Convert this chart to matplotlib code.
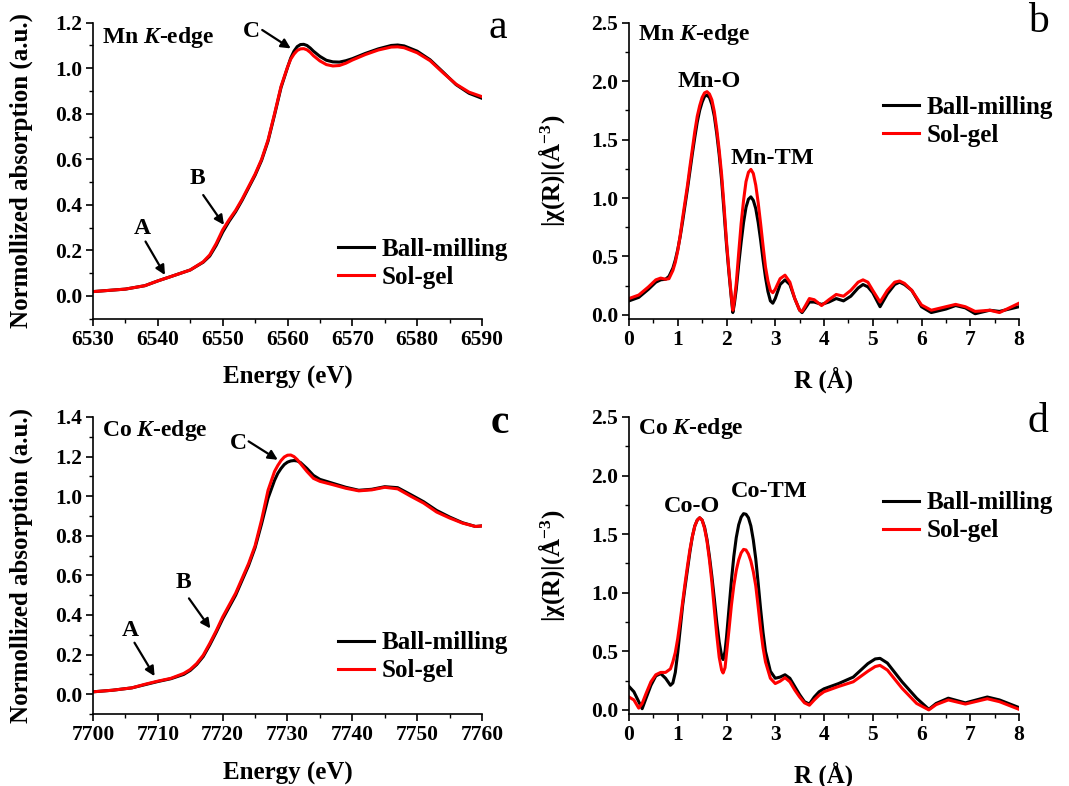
import numpy as np
import matplotlib
matplotlib.use("Agg")
import matplotlib.pyplot as plt
from matplotlib.ticker import MultipleLocator, FormatStrFormatter

plt.rcParams['font.family'] = ['Liberation Serif', 'DejaVu Serif']
plt.rcParams['font.weight'] = 'bold'
plt.rcParams['mathtext.fontset'] = 'custom'
plt.rcParams['mathtext.rm'] = 'Liberation Serif:bold'
plt.rcParams['mathtext.it'] = 'Liberation Serif:bold:italic'
plt.rcParams['mathtext.bf'] = 'Liberation Serif:bold'

# ---------------- data ----------------
# Panel a: Mn K-edge XANES
mn_energy = [6530, 6535, 6538, 6540, 6542, 6545, 6547, 6548, 6549, 6550,
             6551, 6552, 6553, 6554, 6555, 6556, 6557, 6558, 6559, 6560,
             6560.5, 6561, 6561.5, 6562, 6562.5, 6563, 6563.5, 6564, 6565, 6566,
             6567, 6568, 6569, 6570, 6572, 6574, 6576, 6577, 6578, 6580,
             6582, 6584, 6586, 6588, 6590]
mn_xanes_bm = [0.019, 0.030, 0.045, 0.066, 0.085, 0.114, 0.148, 0.175, 0.222, 0.280,
               0.328, 0.370, 0.420, 0.475, 0.530, 0.595, 0.680, 0.795, 0.915, 1.003,
               1.045, 1.075, 1.095, 1.104, 1.105, 1.100, 1.089, 1.075, 1.052, 1.035,
               1.028, 1.027, 1.033, 1.042, 1.065, 1.085, 1.100, 1.102, 1.098, 1.075,
               1.037, 0.983, 0.928, 0.890, 0.868]
mn_xanes_sg = [0.019, 0.030, 0.045, 0.066, 0.085, 0.114, 0.150, 0.180, 0.230, 0.290,
               0.335, 0.376, 0.425, 0.480, 0.535, 0.600, 0.685, 0.800, 0.920, 1.005,
               1.040, 1.062, 1.078, 1.085, 1.086, 1.081, 1.070, 1.055, 1.032, 1.016,
               1.010, 1.012, 1.022, 1.036, 1.060, 1.080, 1.093, 1.094, 1.090, 1.068,
               1.033, 0.980, 0.930, 0.895, 0.875]

# Panel b: Mn K-edge FT
mn_r = [0.0, 0.2, 0.4, 0.55, 0.65, 0.75, 0.82, 0.9, 0.95, 1.0,
        1.05, 1.1, 1.15, 1.2, 1.25, 1.3, 1.35, 1.4, 1.45, 1.5,
        1.55, 1.6, 1.65, 1.7, 1.75, 1.8, 1.85, 1.9, 1.95, 2.0,
        2.05, 2.1, 2.13, 2.16, 2.2, 2.25, 2.3, 2.35, 2.4, 2.45,
        2.5, 2.55, 2.6, 2.65, 2.7, 2.75, 2.8, 2.85, 2.9, 2.95,
        3.0, 3.1, 3.2, 3.3, 3.4, 3.5, 3.55, 3.62, 3.7, 3.8,
        3.95, 4.1, 4.25, 4.4, 4.55, 4.7, 4.8, 4.9, 5.0, 5.15,
        5.3, 5.45, 5.55, 5.65, 5.8, 6.0, 6.2, 6.5, 6.7, 6.9,
        7.1, 7.4, 7.6, 8.0]
mn_ft_bm = [0.12, 0.15, 0.22, 0.28, 0.30, 0.305, 0.33, 0.40, 0.47, 0.56,
            0.67, 0.80, 0.94, 1.08, 1.23, 1.38, 1.52, 1.65, 1.75, 1.82,
            1.87, 1.88, 1.86, 1.80, 1.70, 1.55, 1.37, 1.15, 0.88, 0.60,
            0.36, 0.14, 0.02, 0.09, 0.22, 0.43, 0.62, 0.79, 0.92, 0.99,
            1.01, 0.98, 0.91, 0.79, 0.64, 0.47, 0.32, 0.20, 0.12, 0.10,
            0.14, 0.26, 0.30, 0.26, 0.14, 0.04, 0.02, 0.06, 0.11, 0.11,
            0.09, 0.11, 0.14, 0.12, 0.16, 0.23, 0.26, 0.24, 0.19, 0.07,
            0.18, 0.26, 0.28, 0.26, 0.21, 0.07, 0.02, 0.05, 0.08, 0.06,
            0.01, 0.04, 0.03, 0.07]
mn_ft_sg = [0.14, 0.17, 0.24, 0.30, 0.315, 0.305, 0.31, 0.38, 0.45, 0.55,
            0.68, 0.83, 0.97, 1.11, 1.27, 1.42, 1.57, 1.70, 1.79, 1.86,
            1.90, 1.91, 1.89, 1.84, 1.74, 1.59, 1.41, 1.20, 0.93, 0.63,
            0.38, 0.155, 0.04, 0.12, 0.27, 0.53, 0.78, 0.98, 1.14, 1.22,
            1.245, 1.21, 1.11, 0.96, 0.78, 0.59, 0.41, 0.29, 0.21, 0.19,
            0.22, 0.31, 0.34, 0.28, 0.14, 0.04, 0.03, 0.08, 0.14, 0.13,
            0.08, 0.13, 0.175, 0.16, 0.21, 0.28, 0.30, 0.28, 0.21, 0.11,
            0.21, 0.28, 0.29, 0.27, 0.21, 0.085, 0.04, 0.07, 0.09, 0.07,
            0.03, 0.04, 0.02, 0.10]

# Panel c: Co K-edge XANES
co_energy = [7700, 7703, 7706, 7708, 7710, 7712, 7714, 7715, 7716, 7717,
             7718, 7719, 7720, 7722, 7724, 7725, 7726, 7727, 7728, 7728.5,
             7729, 7729.5, 7730, 7730.5, 7731, 7731.5, 7732, 7733, 7734, 7735,
             7737, 7739, 7741, 7743, 7745, 7747, 7749, 7751, 7753, 7755,
             7757, 7759, 7760]
co_xanes_bm = [0.012, 0.020, 0.032, 0.048, 0.064, 0.078, 0.100, 0.120, 0.150, 0.190,
               0.248, 0.312, 0.380, 0.500, 0.650, 0.740, 0.860, 0.990, 1.080, 1.115,
               1.140, 1.160, 1.172, 1.178, 1.180, 1.178, 1.170, 1.140, 1.105, 1.085,
               1.065, 1.045, 1.030, 1.035, 1.048, 1.043, 1.008, 0.972, 0.928, 0.895,
               0.866, 0.847, 0.850]
co_xanes_sg = [0.012, 0.020, 0.032, 0.050, 0.066, 0.080, 0.105, 0.125, 0.155, 0.197,
               0.256, 0.320, 0.390, 0.510, 0.660, 0.750, 0.880, 1.030, 1.125, 1.155,
               1.180, 1.198, 1.207, 1.208, 1.200, 1.185, 1.165, 1.125, 1.090, 1.075,
               1.058, 1.040, 1.027, 1.032, 1.045, 1.037, 1.000, 0.965, 0.920, 0.890,
               0.864, 0.847, 0.850]

# Panel d: Co K-edge FT
co_r = [0.0, 0.1, 0.2, 0.27, 0.35, 0.45, 0.55, 0.65, 0.75, 0.85,
        0.9, 0.95, 1.0, 1.05, 1.1, 1.15, 1.2, 1.25, 1.3, 1.35,
        1.4, 1.45, 1.5, 1.55, 1.6, 1.65, 1.7, 1.75, 1.8, 1.85,
        1.9, 1.93, 1.97, 2.0, 2.05, 2.1, 2.15, 2.2, 2.25, 2.3,
        2.35, 2.4, 2.45, 2.5, 2.55, 2.6, 2.65, 2.7, 2.75, 2.8,
        2.9, 3.0, 3.1, 3.2, 3.3, 3.4, 3.5, 3.6, 3.7, 3.8,
        3.9, 4.0, 4.3, 4.6, 4.9, 5.05, 5.15, 5.3, 5.6, 5.9,
        6.15, 6.3, 6.55, 6.9, 7.35, 7.6, 8.0]
co_ft_bm = [0.20, 0.155, 0.07, 0.01, 0.10, 0.21, 0.29, 0.31, 0.27, 0.21,
            0.23, 0.32, 0.49, 0.69, 0.89, 1.05, 1.20, 1.35, 1.48, 1.57,
            1.62, 1.64, 1.62, 1.56, 1.455, 1.31, 1.14, 0.95, 0.75, 0.58,
            0.46, 0.43, 0.50, 0.62, 0.86, 1.10, 1.31, 1.47, 1.58, 1.645,
            1.675, 1.67, 1.64, 1.57, 1.45, 1.29, 1.08, 0.86, 0.66, 0.50,
            0.33, 0.27, 0.28, 0.30, 0.27, 0.20, 0.13, 0.07, 0.05, 0.11,
            0.155, 0.18, 0.225, 0.28, 0.395, 0.435, 0.44, 0.40, 0.24, 0.10,
            0.005, 0.055, 0.10, 0.06, 0.11, 0.085, 0.02]
co_ft_sg = [0.11, 0.085, 0.015, 0.055, 0.14, 0.24, 0.30, 0.32, 0.32, 0.35,
            0.41, 0.49, 0.61, 0.76, 0.92, 1.08, 1.23, 1.37, 1.48, 1.57,
            1.62, 1.64, 1.62, 1.55, 1.44, 1.28, 1.09, 0.86, 0.64, 0.45,
            0.34, 0.315, 0.36, 0.48, 0.68, 0.89, 1.06, 1.19, 1.28, 1.34,
            1.37, 1.365, 1.33, 1.27, 1.18, 1.06, 0.88, 0.69, 0.53, 0.41,
            0.27, 0.225, 0.245, 0.275, 0.24, 0.17, 0.11, 0.06, 0.04, 0.085,
            0.125, 0.155, 0.20, 0.24, 0.33, 0.37, 0.38, 0.34, 0.185, 0.055,
            0.0, 0.045, 0.085, 0.05, 0.095, 0.07, 0.005]

series_labels = ['Ball-milling', 'Sol-gel']
series_colors = ['black', '#ff0000']

# ---------------- figure ----------------
fig = plt.figure(figsize=(10.69, 7.86), dpi=100)
W, H = 1069.0, 786.0


def add_ax(x0, y_top, x1, y_bot):
    return fig.add_axes([x0 / W, 1 - y_bot / H, (x1 - x0) / W, (y_bot - y_top) / H])


ax_a = add_ax(93, 22.7, 482, 318.7)
ax_b = add_ax(629, 22.7, 1019, 319)
ax_c = add_ax(93, 417, 482, 714)
ax_d = add_ax(629, 417, 1019, 714)

LW = 2.2
TICK_FS = 15.5
LABEL_FS = 18
LEG_FS = 18


def style(ax, xmaj, xmin, ymaj, ymin):
    for s in ['top', 'right']:
        ax.spines[s].set_visible(False)
    for s in ['left', 'bottom']:
        ax.spines[s].set_linewidth(1.2)
    ax.xaxis.set_major_locator(MultipleLocator(xmaj))
    ax.xaxis.set_minor_locator(MultipleLocator(xmin))
    ax.yaxis.set_major_locator(MultipleLocator(ymaj))
    ax.yaxis.set_minor_locator(MultipleLocator(ymin))
    ax.yaxis.set_major_formatter(FormatStrFormatter('%.1f'))
    ax.tick_params(which='major', direction='out', length=5, width=1.2,
                   labelsize=TICK_FS, pad=3)
    ax.tick_params(which='minor', direction='out', length=3, width=1.0)
    for lab in ax.get_xticklabels() + ax.get_yticklabels():
        lab.set_fontweight('bold')


def legend(ax, x, y):
    ax.legend(loc='center left', bbox_to_anchor=(x, y), frameon=False,
              borderpad=0, borderaxespad=0, handlelength=1.45, handletextpad=0.3,
              labelspacing=0.2, prop={'weight': 'bold', 'size': LEG_FS})


def arrow(ax, head, tail):
    ax.annotate('', xy=head, xytext=tail,
                arrowprops=dict(arrowstyle='-|>', color='black', lw=1.6,
                                mutation_scale=14, shrinkA=0, shrinkB=0))


def plot_pair(ax, x, y_bm, y_sg):
    ax.plot(x, y_bm, color=series_colors[0], lw=LW, label=series_labels[0],
            solid_joinstyle='round')
    ax.plot(x, y_sg, color=series_colors[1], lw=LW, label=series_labels[1],
            solid_joinstyle='round')


# Panel a
ax = ax_a
plot_pair(ax, mn_energy, mn_xanes_bm, mn_xanes_sg)
ax.set_xlim(6530, 6590)
ax.set_ylim(-0.1, 1.2)
style(ax, 10, 5, 0.2, 0.1)
ax.set_xlabel('Energy (eV)', fontsize=LABEL_FS, fontweight='bold')
ax.set_ylabel('Normollized absorption (a.u.)', fontsize=LABEL_FS, fontweight='bold')
ax.text(0.023, 0.95, 'Mn $K$-edge', transform=ax.transAxes, fontsize=17,
        fontweight='bold', ha='left', va='center')
ax.text(6537.6, 0.295, 'A', fontsize=17, fontweight='bold', ha='center', va='center')
arrow(ax, (6541.1, 0.092), (6538.1, 0.239))
ax.text(6546.1, 0.517, 'B', fontsize=17, fontweight='bold', ha='center', va='center')
arrow(ax, (6550.2, 0.312), (6547.0, 0.443))
ax.text(6554.4, 1.16, 'C', fontsize=17, fontweight='bold', ha='center', va='center')
arrow(ax, (6560.5, 1.087), (6556.1, 1.168))
legend(ax, 0.63, 0.188)

# Panel b
ax = ax_b
plot_pair(ax, mn_r, mn_ft_bm, mn_ft_sg)
ax.set_xlim(0, 8)
ax.set_ylim(-0.035, 2.5)
style(ax, 1, 0.5, 0.5, 0.25)
ax.set_xlabel('R (Å)', fontsize=LABEL_FS, fontweight='bold')
ax.set_ylabel('|χ(R)|(Å$^{-3}$)', fontsize=LABEL_FS, fontweight='bold')
ax.text(0.023, 0.96, 'Mn $K$-edge', transform=ax.transAxes, fontsize=17,
        fontweight='bold', ha='left', va='center')
ax.text(1.65, 2.0, 'Mn-O', fontsize=17.5, fontweight='bold', ha='center', va='center')
ax.text(2.95, 1.34, 'Mn-TM', fontsize=17.5, fontweight='bold', ha='center', va='center')
legend(ax, 0.65, 0.667)

# Panel c
ax = ax_c
plot_pair(ax, co_energy, co_xanes_bm, co_xanes_sg)
ax.set_xlim(7700, 7760)
ax.set_ylim(-0.1, 1.4)
style(ax, 10, 5, 0.2, 0.1)
ax.set_xlabel('Energy (eV)', fontsize=LABEL_FS, fontweight='bold')
ax.set_ylabel('Normollized absorption (a.u.)', fontsize=LABEL_FS, fontweight='bold')
ax.text(0.023, 0.956, 'Co $K$-edge', transform=ax.transAxes, fontsize=17,
        fontweight='bold', ha='left', va='center')
ax.text(7705.8, 0.324, 'A', fontsize=17, fontweight='bold', ha='center', va='center')
arrow(ax, (7709.5, 0.091), (7706.4, 0.26))
ax.text(7714.0, 0.563, 'B', fontsize=17, fontweight='bold', ha='center', va='center')
arrow(ax, (7718.1, 0.332), (7714.8, 0.484))
ax.text(7722.5, 1.268, 'C', fontsize=17, fontweight='bold', ha='center', va='center')
arrow(ax, (7728.5, 1.184), (7724.0, 1.277))
legend(ax, 0.63, 0.192)

# Panel d
ax = ax_d
plot_pair(ax, co_r, co_ft_bm, co_ft_sg)
ax.set_xlim(0, 8)
ax.set_ylim(-0.035, 2.5)
style(ax, 1, 0.5, 0.5, 0.25)
ax.set_xlabel('R (Å)', fontsize=LABEL_FS, fontweight='bold')
ax.set_ylabel('|χ(R)|(Å$^{-3}$)', fontsize=LABEL_FS, fontweight='bold')
ax.text(0.023, 0.96, 'Co $K$-edge', transform=ax.transAxes, fontsize=17,
        fontweight='bold', ha='left', va='center')
ax.text(1.29, 1.74, 'Co-O', fontsize=17.5, fontweight='bold', ha='center', va='center')
ax.text(2.87, 1.86, 'Co-TM', fontsize=17.5, fontweight='bold', ha='center', va='center')
legend(ax, 0.65, 0.664)

# label positions
for ax in (ax_a, ax_c):
    ax.yaxis.set_label_coords(-0.155, 0.5)
for ax in (ax_b, ax_d):
    ax.yaxis.set_label_coords(-0.16, 0.5)
for ax in (ax_a, ax_b, ax_c, ax_d):
    ax.xaxis.set_label_coords(0.5, -0.16)

# panel letters
fig.text(498 / W, 1 - 28 / H, 'a', fontsize=30, fontweight='normal', ha='center', va='center')
fig.text(1038 / W, 1 - 22 / H, 'b', fontsize=30, fontweight='normal', ha='center', va='center')
fig.text(500 / W, 1 - 423 / H, 'c', fontsize=30, fontweight='bold', ha='center', va='center')
fig.text(1038 / W, 1 - 422 / H, 'd', fontsize=30, fontweight='normal', ha='center', va='center')

fig.savefig('out.png', dpi=100)
